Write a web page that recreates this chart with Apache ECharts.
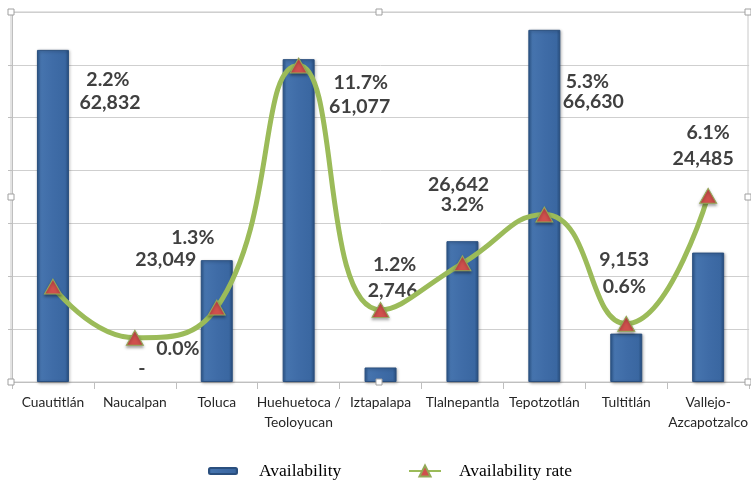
<!DOCTYPE html>
<html>
<head>
<meta charset="utf-8">
<script src="https://cdn.jsdelivr.net/npm/echarts@6/dist/echarts.min.js"></script>
<style>html,body{margin:0;padding:0;background:#fff;}#c{width:751px;height:487px;}</style>
</head>
<body>
<div id="c"></div>
<script>
// ---- data ----
const categories = ['Cuautitlán', 'Naucalpan', 'Toluca', 'Huehuetoca /\nTeoloyucan', 'Iztapalapa', 'Tlalnepantla', 'Tepotzotlán', 'Tultitlán', 'Vallejo-\nAzcapotzalco'];
const availability = [62832, 0, 23049, 61077, 2746, 26642, 66630, 9153, 24485];
const availabilityRate = [2.2, 0.0, 1.3, 11.7, 1.2, 3.2, 5.3, 0.6, 6.1];

// ---- label placement (layout only) ----
const valueLabelOffsets = [[57, 53], [7, -13], [-51, 0], [61, 48], [12, -77], [-4, -56], [49, 72], [-2, -74], [-5, -94]];
const rateLabelOffsets = [[55, -207], [43, 11], [-24, -70], [62, 17], [14, -45], [0, -59], [43, -133], [-2, -37], [0, -63]];

const labelFont = { fontFamily: 'Lato', fontWeight: 'bold', fontSize: 19.5, color: '#404040', lineHeight: 22 };

const fmtVal = v => v === 0 ? '-' : v.toLocaleString('en-US');

const barGradient = new echarts.graphic.LinearGradient(0, 0, 1, 0, [
  { offset: 0, color: '#2d5a91' },
  { offset: 0.12, color: '#4674ae' },
  { offset: 0.5, color: '#3f6ca7' },
  { offset: 0.88, color: '#3a67a1' },
  { offset: 1, color: '#284f80' }
]);

const barData = availability.map((v, i) => ({
  value: v,
  itemStyle: v === 0 ? { color: 'rgba(0,0,0,0)', borderWidth: 0, borderColor: 'rgba(0,0,0,0)', shadowBlur: 0, shadowOffsetX: 0, shadowOffsetY: 0, shadowColor: 'rgba(0,0,0,0)' } : undefined,
  label: {
    show: true, position: 'top', distance: 0, align: 'center', verticalAlign: 'middle',
    offset: valueLabelOffsets[i], formatter: () => fmtVal(v), ...labelFont
  }
}));

const lineData = availabilityRate.map((v, i) => ({
  value: v,
  label: {
    show: true, position: 'inside', align: 'center', verticalAlign: 'middle',
    offset: rateLabelOffsets[i], formatter: () => v.toFixed(1) + '%', ...labelFont
  }
}));

const chart = echarts.init(document.getElementById('c'), null, { renderer: 'canvas' });

const handles = [[11, 12], [379, 12], [748, 12], [11, 197], [748, 197], [11, 382], [379, 382], [748, 382]];

chart.setOption({
  animation: false,
  backgroundColor: '#fff',
  grid: { left: 12, right: 0, top: 12, bottom: 105, containLabel: false },
  legend: [
    {
      data: ['Availability'], left: 208, top: 462, padding: 0,
      itemWidth: 28, itemHeight: 6,
      textStyle: { fontFamily: 'Liberation Serif', fontSize: 17.5, color: '#000', padding: [0, 0, 0, 17] }
    },
    {
      data: ['Availability rate'], left: 408, top: 462, padding: 0,
      itemWidth: 32, itemHeight: 14,
      textStyle: { fontFamily: 'Liberation Serif', fontSize: 17.5, color: '#000', padding: [0, 0, 0, 13] }
    }
  ],
  xAxis: {
    type: 'category',
    data: categories,
    axisLine: { show: true, lineStyle: { color: '#bfbfbf', width: 1 } },
    axisTick: { show: true, length: 7, lineStyle: { color: '#bfbfbf' } },
    axisLabel: { fontFamily: 'Lato', fontSize: 13.8, color: '#262626', margin: 11, lineHeight: 20, interval: 0 }
  },
  yAxis: [
    {
      type: 'value', min: 0, max: 70000, interval: 10000,
      axisLine: { show: true, lineStyle: { color: '#bfbfbf' } },
      axisTick: { show: true, inside: false, length: 4, lineStyle: { color: '#bfbfbf' } },
      axisLabel: { show: false },
      splitLine: { show: true, lineStyle: { color: '#cfcfcf', width: 1 } }
    },
    {
      type: 'value', min: -1.9, max: 14,
      axisLine: { show: false }, axisTick: { show: false },
      axisLabel: { show: false }, splitLine: { show: false }
    }
  ],
  series: [
    {
      name: 'Availability',
      type: 'bar',
      barWidth: 32,
      data: barData,
      z: 2,
      itemStyle: {
        color: barGradient,
        borderColor: '#2a4f7e', borderWidth: 1,
        shadowColor: 'rgba(0,0,0,0.3)', shadowBlur: 3, shadowOffsetX: 1, shadowOffsetY: 1
      }
    },
    {
      name: 'Availability rate',
      type: 'line',
      yAxisIndex: 1,
      smooth: 0.5,
      data: lineData,
      z: 3,
      lineStyle: { color: '#9bbb59', width: 5 },
      symbol: 'triangle',
      symbolSize: [17, 15],
      itemStyle: {
        color: '#d0504d', borderColor: '#93a957', borderWidth: 1,
        shadowColor: 'rgba(0,0,0,0.35)', shadowBlur: 3, shadowOffsetY: 2
      }
    }
  ],
  graphic: [
    {
      type: 'rect', silent: true, z: 0,
      shape: { x: 11, y: 12, width: 737, height: 370 },
      style: { fill: null, stroke: '#c8c8c8', lineWidth: 1 }
    },
    ...handles.map(h => ({
      type: 'rect', silent: true, z: 100,
      shape: { x: h[0] - 3, y: h[1] - 3, width: 6, height: 6 },
      style: { fill: '#fff', stroke: '#a0a0a0', lineWidth: 1 }
    }))
  ]
});
</script>
</body>
</html>
